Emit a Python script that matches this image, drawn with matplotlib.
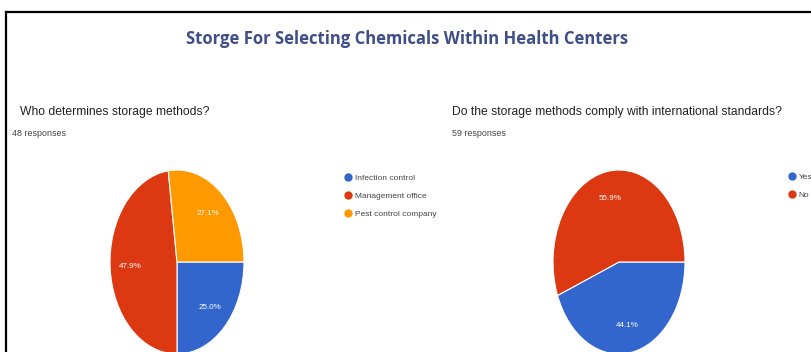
import matplotlib
matplotlib.use("Agg")
import matplotlib.pyplot as plt
from matplotlib.lines import Line2D

W, H = 811, 352

# données
titre = "Storge For Selecting Chemicals Within Health Centers"

q1 = "Who determines storage methods?"
q1_reponses = "48 responses"
q1_labels = ["Infection control", "Management office", "Pest control company"]
q1_valeurs = [12, 23, 13]
q1_pct = ["25.0%", "47.9%", "27.1%"]

q2 = "Do the storage methods comply with international standards?"
q2_reponses = "59 responses"
q2_labels = ["Yes", "No"]
q2_valeurs = [26, 33]
q2_pct = ["44.1%", "55.9%"]

couleurs = ["#3366cc", "#dc3912", "#ff9900"]


def px(x, y):
    """pixels (origine en haut a gauche) -> coordonnees figure"""
    return x / W, 1 - y / H


def camembert(fig, cx, cy, rx, ry, valeurs, pct, cols):
    ax = fig.add_axes([(cx - rx) / W, 1 - (cy + ry) / H, 2 * rx / W, 2 * ry / H])
    it = iter(pct)
    wedges, textes, autotextes = ax.pie(
        valeurs, colors=cols, startangle=0, counterclock=False,
        autopct=lambda p: next(it), pctdistance=0.7,
        wedgeprops=dict(edgecolor="white", linewidth=0.8),
        textprops=dict(color="white", fontsize=5.8, family="Liberation Sans"))
    ax.set_aspect("auto")
    ax.set_xlim(-1.0, 1.0)
    ax.set_ylim(-1.0, 1.0)
    return wedges


def legende(fig, x, y, labels, cols):
    poignees = [Line2D([], [], marker="o", linestyle="none", markersize=5,
                       markerfacecolor=c, markeredgecolor=c) for c in cols]
    fig.legend(poignees, labels, loc="upper left", bbox_to_anchor=px(x, y),
               frameon=False, handletextpad=0.35,
               labelspacing=1.25, borderaxespad=0, borderpad=0,
               handlelength=0.8, labelcolor="#444444",
               prop=dict(family="Liberation Sans", size=6.0))


fig = plt.figure(figsize=(W / 100, H / 100), dpi=100)
fig.patch.set_facecolor("white")

# cadre noir (haut et gauche)
fig.add_artist(Line2D([6 / W, 1], [1 - 12 / H] * 2, color="black", linewidth=1.6))
fig.add_artist(Line2D([6 / W] * 2, [0, 1 - 12 / H], color="black", linewidth=1.6))

fig.text(*px(407, 39), titre, ha="center", va="center", fontsize=12,
         fontweight="bold", color="#3f4f85", family="Open Sans")

fig.text(*px(20, 112), q1, ha="left", va="center", fontsize=8.7,
         color="#222222", family="Liberation Sans")
fig.text(*px(12, 133), q1_reponses, ha="left", va="center", fontsize=6.4,
         color="#444444", family="Liberation Sans")
fig.text(*px(452, 112), q2, ha="left", va="center", fontsize=8.7,
         color="#222222", family="Liberation Sans")
fig.text(*px(452, 133), q2_reponses, ha="left", va="center", fontsize=6.4,
         color="#444444", family="Liberation Sans")

camembert(fig, 177, 262, 67, 92, q1_valeurs, q1_pct, couleurs[:3])
camembert(fig, 619, 262, 66, 92, q2_valeurs, q2_pct, couleurs[:2])

legende(fig, 345, 174, q1_labels, couleurs[:3])
legende(fig, 789, 173, q2_labels, couleurs[:2])

fig.savefig("out.png", dpi=100, facecolor="white")
